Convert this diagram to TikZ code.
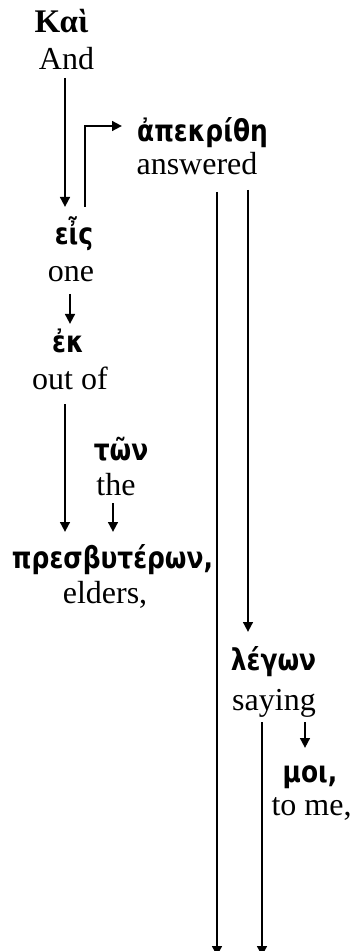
\documentclass[tikz,border=0pt]{standalone}
\usepackage{fontspec}
\setmainfont{Liberation Serif}
\newfontfamily\greekfont{DejaVu Sans}[FakeStretch=0.83]
\usetikzlibrary{arrows.meta, calc}

\begin{document}
\begin{tikzpicture}[x=0.5pt, y=-0.5pt,
    gk/.style={anchor=base, inner sep=0pt, font=\greekfont\bfseries\fontsize{15}{18}\selectfont},
    gl/.style={anchor=base, inner sep=0pt, font=\fontsize{16}{19}\selectfont},
    arr/.style={line width=1.4pt, -{Triangle[length=5pt, width=4.8pt]}}]
  \useasboundingbox (0,0) rectangle (354,951);

  % Greek word with its gloss underneath
  \node[gl, font=\bfseries\fontsize{16.5}{19}\selectfont] (kai) at (61.5,33) {Καὶ};
  \node[gl] (and) at (66.5,70) {And};
  \node[gk] (heis) at (74,245) {εἶς};
  \node[gl] (one) at (71,282) {one};
  \node[gk] (ek) at (68,353) {ἐκ};
  \node[gl] (outof) at (70,390) {out of};
  \node[gk] (ton) at (121,460) {τῶν};
  \node[gl] (the) at (116,495) {the};
  \node[gk] (presb) at (112.5,568) {πρεσβυτέρων,};
  \node[gl] (elders) at (105,603) {elders,};
  \node[gk] (apek) at (202.5,142) {ἀπεκρίθη};
  \node[gl] (answered) at (197,175) {answered};
  \node[gk] (legon) at (273.5,670) {λέγων};
  \node[gl] (saying) at (274,710) {saying};
  \node[gk] (moi) at (310,782) {μοι,};
  \node[gl] (tome) at (311.5,815) {to me,};

  % lines running off the bottom
  \coordinate (downA) at (217,956);
  \coordinate (downB) at (262,956);

  % arrows
  \draw[arr] ($(and.base)+(-1.5,8)$) -- ($(heis.base)+(-9,-38)$);
  \draw[arr] ($(heis.base)+(11,-38)$) |- ($(apek.base)+(-80.5,-16)$);
  \draw[arr] ($(answered.base)+(20,17)$) -- (downA);
  \draw[arr] ($(answered.base)+(51,15)$) -- ($(legon.base)+(-25.5,-38)$);
  \draw[arr] ($(one.base)+(-1,12)$) -- ($(ek.base)+(2,-29)$);
  \draw[arr] ($(outof.base)+(-5,14)$) -- ($(presb.base)+(-47.5,-36)$);
  \draw[arr] ($(the.base)+(-3,8)$) -- ($(presb.base)+(0.5,-36)$);
  \draw[arr] ($(saying.base)+(-12,12)$) -- (downB);
  \draw[arr] ($(saying.base)+(31,12)$) -- ($(moi.base)+(-5,-34)$);
\end{tikzpicture}
\end{document}
